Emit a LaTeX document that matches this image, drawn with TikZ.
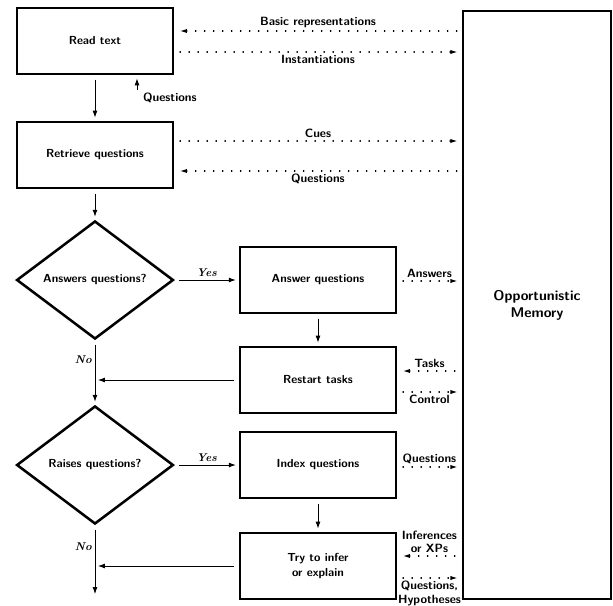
\documentclass[tikz,border=0pt]{standalone}
\usepackage{amsmath}
\usetikzlibrary{arrows.meta,shapes.geometric,calc}

\begin{document}
\begin{tikzpicture}[x=0.025cm,y=-0.025cm,
		box/.style={draw,line width=1.8pt,minimum width=3.9cm,minimum height=1.66cm,align=center,font=\sffamily\bfseries\fontsize{8.3}{10}\selectfont},
		test/.style={draw,diamond,line width=1.8pt,minimum width=3.92cm,minimum height=2.95cm,inner sep=0pt,font=\sffamily\bfseries\fontsize{8.3}{10}\selectfont},
		flow/.style={->,>={Latex[length=5pt,width=3.5pt]},line width=0.7pt,shorten >=2pt,shorten <=3pt},
		data/.style={line width=0.8pt,dash pattern=on 0.4pt off 6pt,line cap=round,>={Latex[length=5pt,width=3pt]},shorten >=3pt,shorten <=4pt},
		lbl/.style={font=\sffamily\bfseries\fontsize{8.5}{9.5}\selectfont,inner sep=2pt,align=center},
		yn/.style={font=\bfseries\itshape\fontsize{8}{9}\selectfont,inner sep=2pt}]
		\useasboundingbox (0,0) rectangle (613,606);% page size of the reference

		% control flow on the left
		\node[box] (read) at (95,41) {Read text};
		\node[box] (retrieve) at (95,155) {Retrieve questions};
		\node[test] (answers) at (95,280) {Answers questions?};
		\node[box] (answer) at (318,280) {Answer questions};
		\node[box] (restart) at (318,380) {Restart tasks};
		\node[test] (raises) at (95,465) {Raises questions?};
		\node[box] (index) at (318,465) {Index questions};
		\node[box] (infer) at (318,566) {Try to infer\\or explain};
		\node[draw,line width=1.8pt,minimum width=3.7cm,minimum height=14.7cm,align=center,font=\sffamily\bfseries\fontsize{10}{12}\selectfont] (memory) at (537,305) {Opportunistic\\Memory};

		\coordinate (out) at (95,597);
		\coordinate (ask) at (137,90);

		\draw[flow] (read) -- (retrieve);
		\draw[flow] (retrieve) -- (answers);
		\draw[flow] (answers) -- node[above,yn] {Yes} (answer);
		\draw[flow] (answer) -- (restart);
		\draw[flow] (answers) -- node[left,yn,pos=0.3] {No} (raises);
		\draw[flow] (restart) -- (restart -| answers);
		\draw[flow] (raises) -- node[above,yn] {Yes} (index);
		\draw[flow] (index) -- (infer);
		\draw[flow] (raises) -- node[left,yn,pos=0.3] {No} (out);
		\draw[flow] (infer) -- (infer -| raises);
		\draw[flow,shorten <=0pt] (ask) -- (ask |- read.south);
		\node[lbl,anchor=west] at (140,98) {Questions};

		% exchanges with the memory
		\path (memory.west |- 0,31) coordinate (m1)
			(memory.west |- 0,52) coordinate (m2)
			(memory.west |- 0,141) coordinate (m3)
			(memory.west |- 0,171) coordinate (m4)
			(memory.west |- 0,281) coordinate (m5)
			(memory.west |- 0,371) coordinate (m6)
			(memory.west |- 0,392) coordinate (m7)
			(memory.west |- 0,467) coordinate (m8)
			(memory.west |- 0,556) coordinate (m9)
			(memory.west |- 0,578) coordinate (m10);

		\draw[data,<-] (read.east |- m1) -- node[lbl,above] {Basic representations} (m1);
		\draw[data,->] (read.east |- m2) -- node[lbl,below] {Instantiations} (m2);
		\draw[data,->] (retrieve.east |- m3) -- node[lbl,above] {Cues} (m3);
		\draw[data,<-] (retrieve.east |- m4) -- node[lbl,below] {Questions} (m4);
		\draw[data,->] (answer.east |- m5) -- node[lbl,above] {Answers} (m5);
		\draw[data,<-] (restart.east |- m6) -- node[lbl,above] {Tasks} (m6);
		\draw[data,->] (restart.east |- m7) -- node[lbl,below] {Control} (m7);
		\draw[data,->] (index.east |- m8) -- node[lbl,above] {Questions} (m8);
		\draw[data,<-] (infer.east |- m9) -- node[lbl,above] {Inferences\\or XPs} (m9);
		\draw[data,->] (infer.east |- m10) -- node[lbl,below] {Questions,\\Hypotheses} (m10);
	\end{tikzpicture}
\end{document}
